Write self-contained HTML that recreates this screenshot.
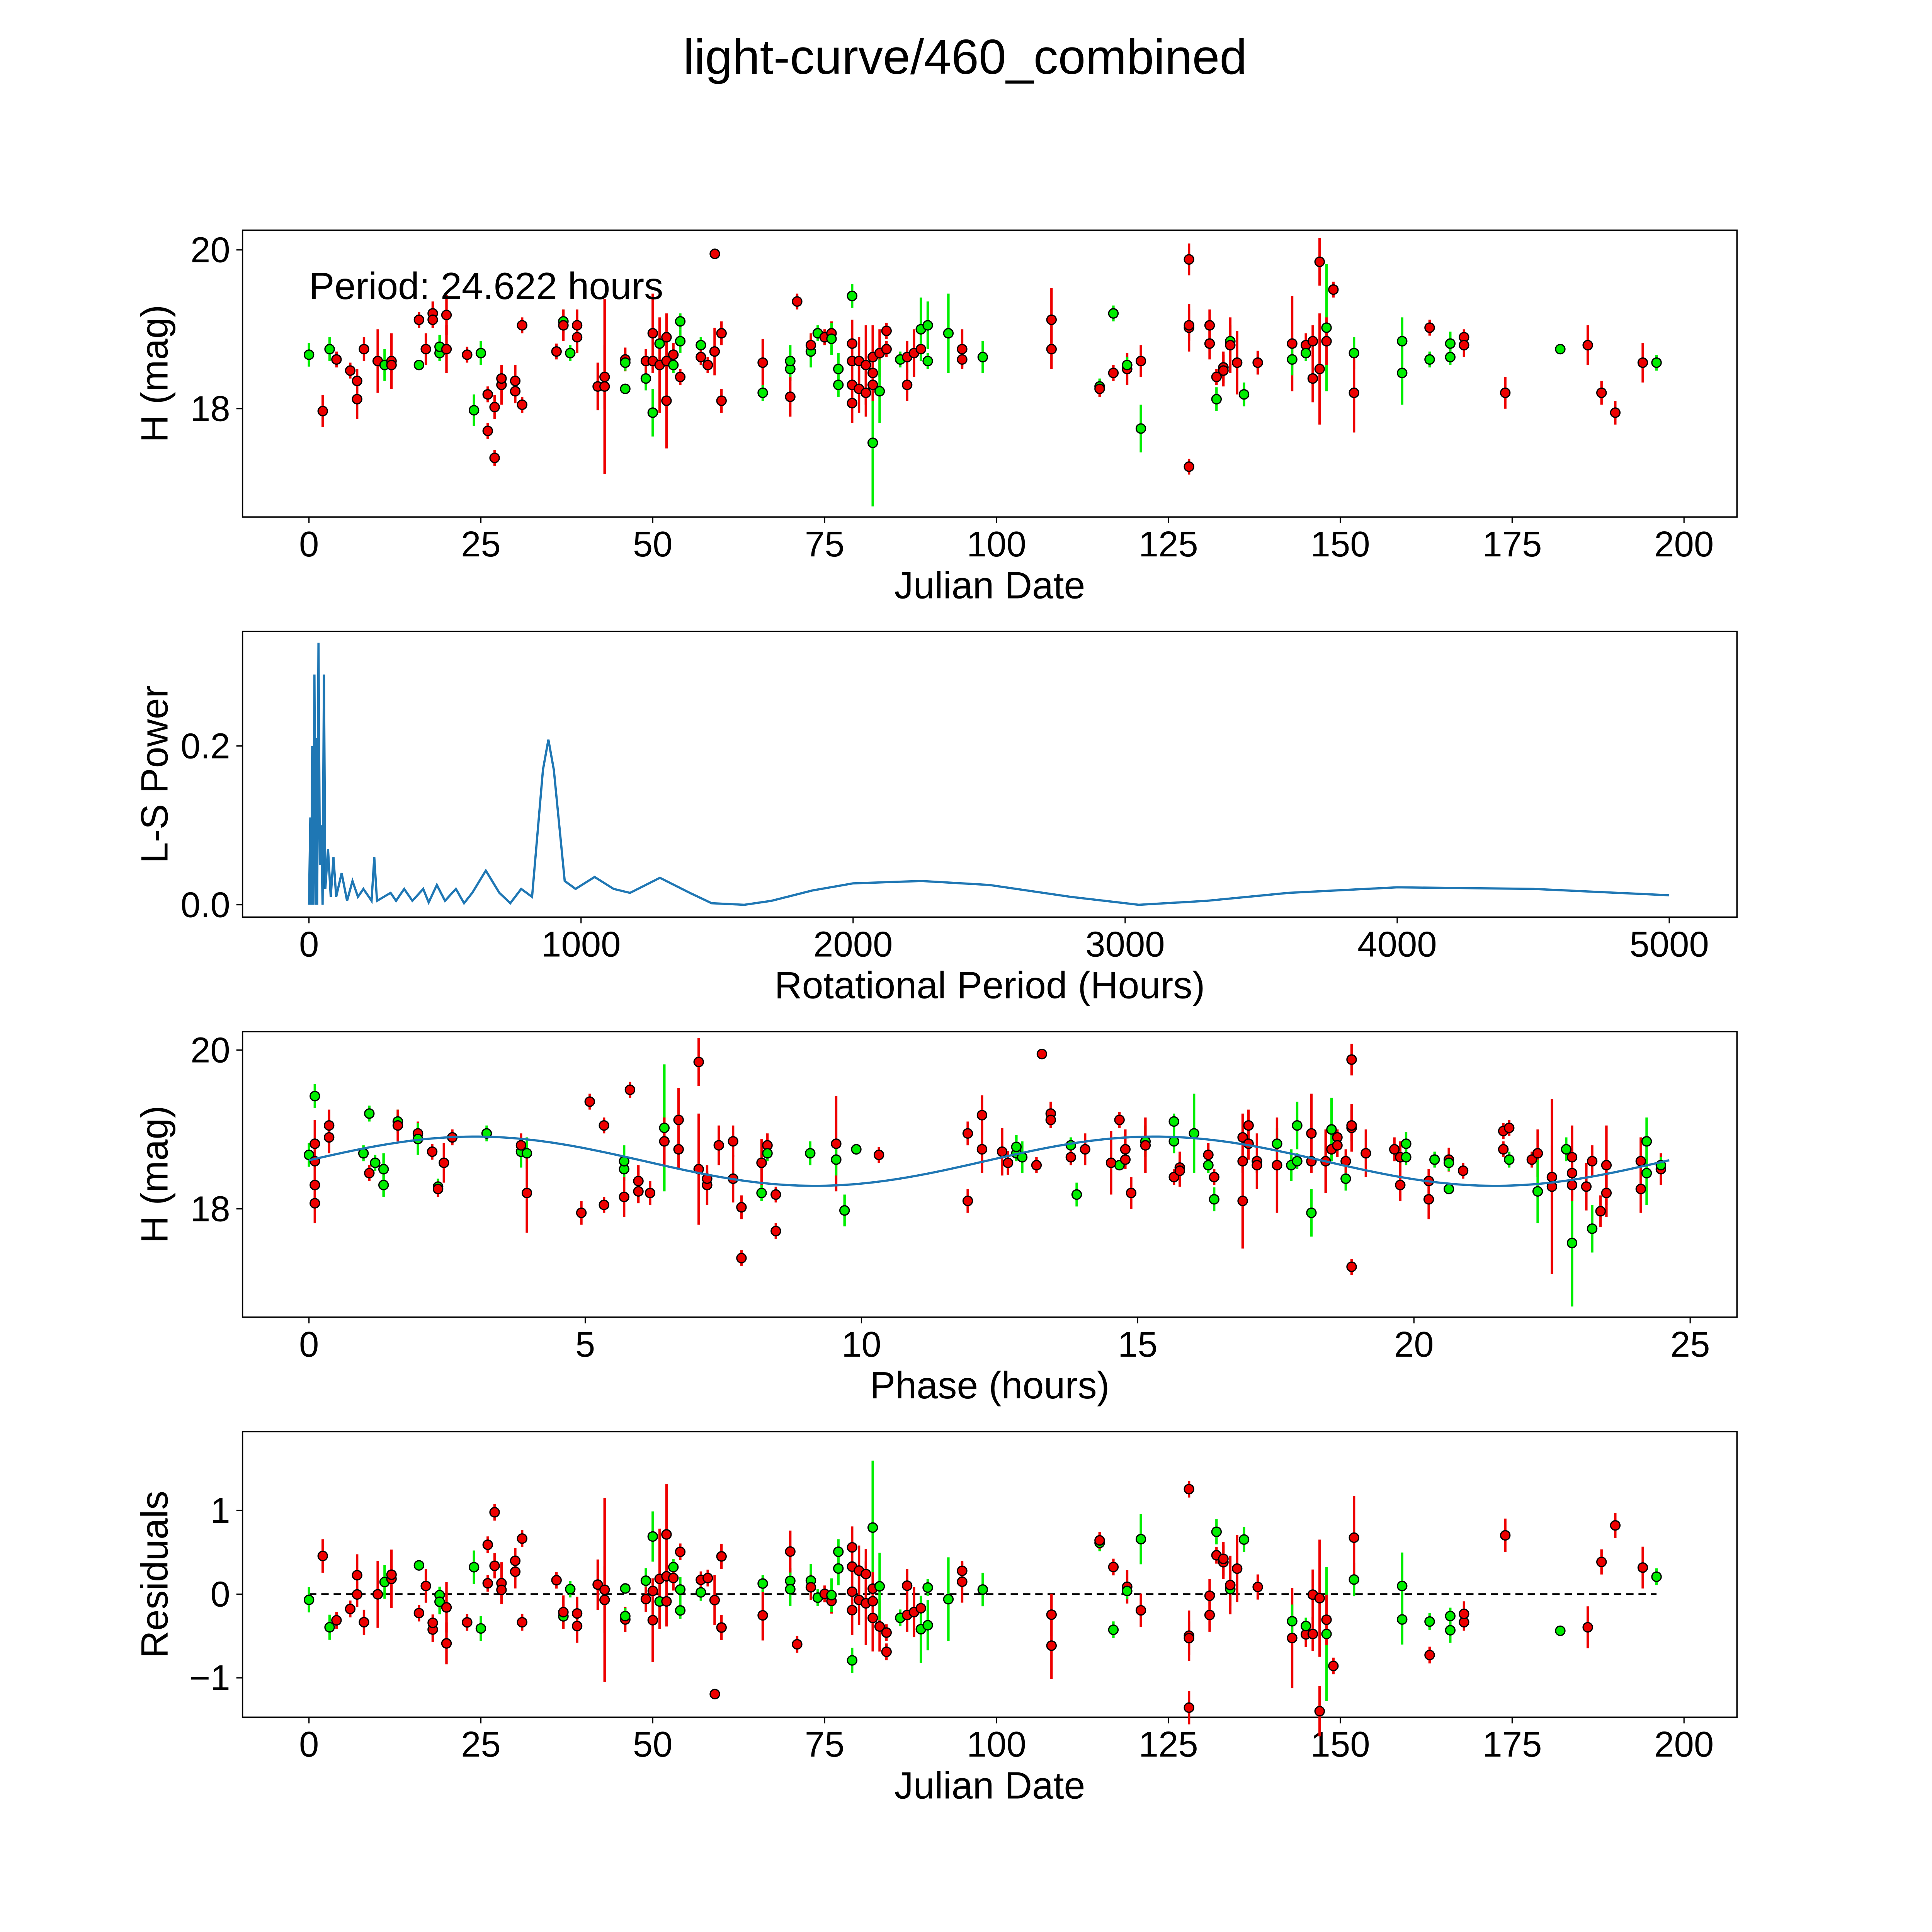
<!DOCTYPE html>
<html><head><meta charset="utf-8"><style>
html,body{margin:0;padding:0;background:#fff;overflow:hidden;width:5400px;height:5400px}
svg{display:block}
text{font-family:"Liberation Sans","DejaVu Sans",sans-serif;fill:#000}
</style></head><body>
<svg id="fig" width="5400" height="5400" viewBox="0 0 1695 1695" xmlns="http://www.w3.org/2000/svg">
<rect width="1695" height="1695" fill="#fff"/>
<text x="784" y="60" font-size="40" text-anchor="middle">light-curve/460_combined</text>
<g id="g1"></g>
<g id="g2"></g>
<g id="g3"></g>
<g id="g4"></g>
</svg>
<script>
const obsDates=[0,2,3,4,6,7,7,8,10,11,12,12,16,16,17,18,18,19,19,20,20,23,24,25,26,26,27,27,28,28,30,30,31,31,36,37,37,38,39,39,42,43,43,46,46,46,49,49,50,50,50,51,51,52,52,52,53,53,54,54,54,57,57,58,59,59.03,60,60,66,66,70,70,70,71,73,73,74,75,76,76,77,77,79,79,79,79,79,80,80,81,81,82,82,82,82,83,83,84,84,86,87,87,88,89,89,90,90,93,95,95,98,108,108,115,115,117,117,119,119,121,121,128,128,128,128,131,131,132,132,133,133,134,134,135,136,138,143,143,145,145,146,146,147,147,148,148,149,152,152,159,159,163,163,166,166,168,168,174,182,186,188,190,194,196];
const obsMags=[18.68,17.97,18.75,18.62,18.48,18.35,18.12,18.75,18.6,18.55,18.6,18.55,18.55,19.12,18.75,19.2,19.12,18.7,18.78,19.18,18.75,18.68,17.98,18.7,18.18,17.72,17.38,18.02,18.3,18.38,18.35,18.22,18.05,19.05,18.72,19.1,19.05,18.7,19.05,18.9,18.28,18.4,18.28,18.25,18.62,18.58,18.38,18.6,17.95,18.95,18.6,18.82,18.55,18.1,18.9,18.6,18.55,18.68,19.1,18.85,18.4,18.8,18.65,18.55,18.72,19.95,18.95,18.1,18.58,18.2,18.5,18.6,18.15,19.35,18.72,18.8,18.95,18.9,18.95,18.88,18.3,18.5,18.82,19.42,18.6,18.3,18.07,18.6,18.25,18.2,18.55,17.57,18.45,18.65,18.3,18.7,18.22,18.75,18.98,18.62,18.65,18.3,18.7,18.75,19.0,19.05,18.6,18.95,18.75,18.62,18.65,19.12,18.75,18.28,18.25,19.2,18.45,18.5,18.55,17.75,18.6,17.27,19.88,19.02,19.05,19.05,18.82,18.12,18.4,18.52,18.48,18.85,18.8,18.58,18.18,18.58,18.82,18.62,18.8,18.7,18.38,18.85,19.85,18.5,19.02,18.85,19.5,18.7,18.2,18.85,18.45,19.02,18.62,18.82,18.65,18.9,18.8,18.2,18.75,18.8,18.2,17.95,18.58,18.58];
const obsErrs=[0.15,0.2,0.15,0.1,0.1,0.15,0.25,0.15,0.4,0.2,0.35,0.1,0.05,0.1,0.2,0.15,0.1,0.1,0.15,0.25,0.3,0.1,0.2,0.15,0.1,0.1,0.1,0.15,0.25,0.1,0.2,0.15,0.1,0.1,0.1,0.15,0.2,0.1,0.2,0.2,0.3,0.4,1.1,0.05,0.15,0.1,0.15,0.15,0.3,0.5,0.1,0.2,0.6,0.6,0.3,0.15,0.1,0.15,0.1,0.15,0.1,0.1,0.1,0.1,0.3,0.05,0.15,0.15,0.3,0.1,0.15,0.2,0.25,0.1,0.2,0.15,0.1,0.1,0.15,0.2,0.15,0.2,0.3,0.15,0.25,0.3,0.25,0.3,0.3,0.3,0.5,0.8,0.3,0.4,0.2,0.3,0.4,0.1,0.1,0.1,0.2,0.2,0.3,0.1,0.4,0.3,0.1,0.5,0.25,0.1,0.2,0.4,0.25,0.1,0.1,0.1,0.1,0.2,0.1,0.3,0.2,0.1,0.2,0.3,0.2,0.2,0.2,0.15,0.1,0.2,0.2,0.2,0.35,0.4,0.15,0.15,0.6,0.2,0.15,0.1,0.3,0.2,0.3,0.7,0.8,0.3,0.1,0.2,0.5,0.3,0.4,0.1,0.1,0.15,0.1,0.1,0.15,0.2,0.05,0.25,0.15,0.15,0.25,0.1];
const obsBands=("grgrrrrrrg"+"rrgrrrrggr"+"rrggrrrrrr"+"rrrrrgrgrr"+"rrrgrggrgr"+"rgrrrrgrgg"+"rgrrrrrrrg"+"ggrrgrgrrg"+"ggrgrrrrrr"+"rgrrrrgrrg"+"rrrrggggrr"+"grrgrgrrgg"+"rrrrrrrgrr"+"rgrrgrrgrg"+"rrrrgrrgrg"+"grgggrrrgr"+"rrrg").split("");
const periodHours=24.622;
const lsPeriods=[0,5,8,12,15,20,24,28,30,35,40,45,50,55,60,70,80,90,100,120,140,160,180,200,230,240,250,300,320,350,380,420,440,470,500,540,570,600,650,700,740,780,820,860,880,900,940,980,1050,1120,1180,1290,1400,1480,1600,1700,1850,2000,2250,2500,2800,3050,3300,3600,4000,4500,5000];
const lsPower=[0,0.11,0,0.2,0,0.29,0,0.21,0,0.33,0.05,0.1,0,0.29,0.02,0.07,0.01,0.06,0.01,0.04,0.005,0.03,0.01,0.02,0.005,0.06,0.005,0.015,0.005,0.02,0.005,0.02,0.003,0.025,0.005,0.02,0.002,0.015,0.043,0.015,0.002,0.02,0.01,0.17,0.208,0.17,0.03,0.02,0.035,0.02,0.015,0.034,0.015,0.002,0,0.005,0.018,0.027,0.03,0.025,0.01,0,0.005,0.015,0.022,0.02,0.012];
const modelMean=18.6, modelAmp=0.31, modelPeak=3.0;
const x1Ticks=[0,25,50,75,100,125,150,175,200], y1Ticks=[18,20];
const x2Ticks=[0,1000,2000,3000,4000,5000], y2Ticks=[0.0,0.2];
const x3Ticks=[0,5,10,15,20,25], y4Ticks=[-1,0,1];

const NS="http://www.w3.org/2000/svg";
function mk(p,t,a){const e=document.createElementNS(NS,t);for(const k in a)e.setAttribute(k,a[k]);p.appendChild(e);return e;}
function model(ph){return modelMean+modelAmp*Math.cos(2*Math.PI*2*(ph-modelPeak)/periodHours);}
function phaseOf(d){return (d*24)%periodHours;}
const L=197,R=1411;
function frame(g,top,bot,xs,ys,xt,yt,xlab,ylab,fmtY){
  const ax=mk(g,'rect',{x:L,y:top,width:R-L,height:bot-top,fill:'none',stroke:'#000','stroke-width':1.1});
  
  xt.forEach(v=>{const x=xs(v);mk(g,'line',{x1:x,x2:x,y1:bot,y2:bot+5,stroke:'#000'});
    const t=mk(g,'text',{x:x,y:bot+32,'font-size':29,'text-anchor':'middle'});t.textContent=String(v);
    });
  yt.forEach(v=>{const y=ys(v);mk(g,'line',{x1:L-5,x2:L,y1:y,y2:y,stroke:'#000'});
    const t=mk(g,'text',{x:L-10,y:y+10,'font-size':29,'text-anchor':'end'});t.textContent=fmtY?fmtY(v):String(v);
    });
  const xl=mk(g,'text',{x:(L+R)/2,y:bot+66,'font-size':31,'text-anchor':'middle'});xl.textContent=xlab;
  
  const yx=136,yy=(top+bot)/2;
  const yl=mk(g,'text',{x:yx,y:yy,'font-size':31,'text-anchor':'middle',transform:`rotate(-90 ${yx} ${yy})`});yl.textContent=ylab;
  
}
function bandColor(i){return obsBands[i]==='g'?'#00ee00':'#ee0000';}
function points(g,xs,ys,X,Y,E){
  for(let i=0;i<X.length;i++){
    const el=mk(g,'line',{x1:xs(X[i]),x2:xs(X[i]),y1:ys(Y[i]-E[i]),y2:ys(Y[i]+E[i]),stroke:bandColor(i),'stroke-width':2});
    
  }
  for(let i=0;i<X.length;i++){
    const p=mk(g,'circle',{cx:xs(X[i]),cy:ys(Y[i]),r:3.8,fill:bandColor(i),stroke:'#000','stroke-width':1});
    
  }
}
// Panel 1
const g1=document.getElementById('g1');
const xs1=v=>251+v*5.585, ys1=v=>332-(v-18)*64.5;
frame(g1,187,420,xs1,ys1,x1Ticks,y1Ticks,'Julian Date','H (mag)');
points(g1,xs1,ys1,obsDates,obsMags,obsErrs);
const pl=mk(g1,'text',{x:251,y:243,'font-size':31});pl.textContent='Period: '+periodHours.toFixed(3)+' hours';

// Panel 2
const g2=document.getElementById('g2');
const xs2=v=>251+v*0.221, ys2=v=>735-v*645;
frame(g2,513,745,xs2,ys2,x2Ticks,y2Ticks,'Rotational Period (Hours)','L-S Power',v=>v.toFixed(1));
const ls=mk(g2,'polyline',{points:lsPeriods.map((p,i)=>xs2(p)+','+ys2(lsPower[i])).join(' '),fill:'none',stroke:'#1f77b4','stroke-width':1.8});

// Panel 3
const g3=document.getElementById('g3');
const xs3=v=>251+v*44.88, ys3=v=>982-(v-18)*64.5;
frame(g3,838,1070,xs3,ys3,x3Ticks,y1Ticks,'Phase (hours)','H (mag)');
const phases=obsDates.map(phaseOf);
points(g3,xs3,ys3,phases,obsMags,obsErrs);
let mp=[];for(let k=0;k<=200;k++){const ph=k/200*periodHours;mp.push(xs3(ph)+','+ys3(model(ph)));}
const ml=mk(g3,'polyline',{points:mp.join(' '),fill:'none',stroke:'#1f77b4','stroke-width':1.8});

// Panel 4
const g4=document.getElementById('g4');
const ys4=v=>1295-v*68;
frame(g4,1163,1395,xs1,ys4,x1Ticks,y4Ticks,'Julian Date','Residuals',v=>v<0?'\u2212'+(-v):String(v));
const zl=mk(g4,'line',{x1:xs1(0),x2:xs1(196),y1:ys4(0),y2:ys4(0),stroke:'#000','stroke-width':1.5,'stroke-dasharray':'6,4'});

const resid=obsMags.map((m,i)=>model(phases[i])-m);
points(g4,xs1,ys4,obsDates,resid,obsErrs);
</script>
</body></html>
